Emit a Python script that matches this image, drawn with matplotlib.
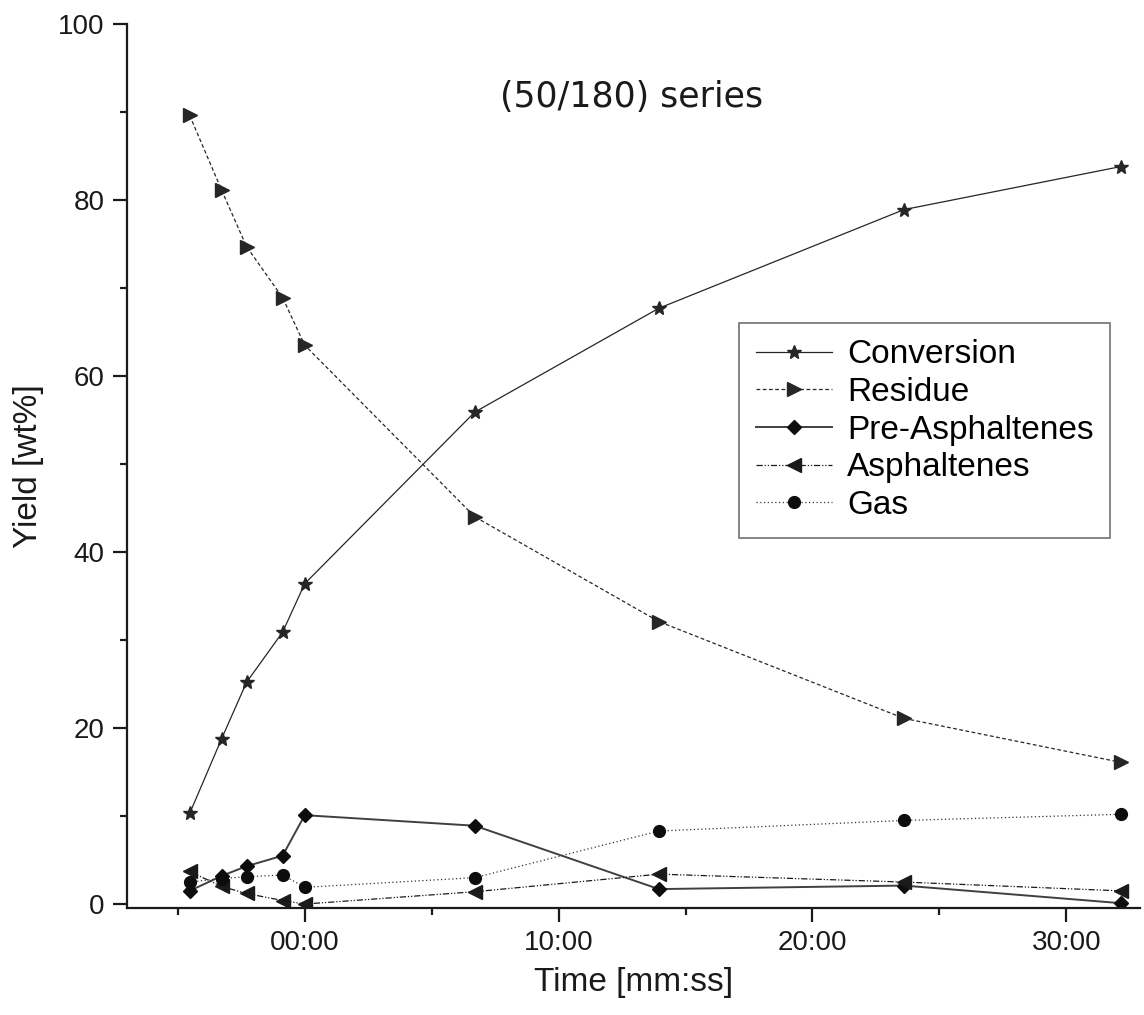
import numpy as np
import matplotlib
matplotlib.use('Agg')
import matplotlib.pyplot as plt
from matplotlib.ticker import FixedLocator, FuncFormatter

plt.rcParams['font.family'] = ['Liberation Sans', 'DejaVu Sans']

#%% data (time in minutes, yields in wt%)

time_min = [-4.53, -3.27, -2.29, -0.87, 0.0, 6.7, 13.95, 23.6, 32.15]

conversion = [10.3, 18.8, 25.2, 30.9, 36.4, 55.9, 67.7, 78.9, 83.8]
residue = [89.6, 81.1, 74.7, 68.9, 63.5, 44.0, 32.1, 21.1, 16.1]
pre_asph = [1.5, 3.2, 4.3, 5.5, 10.1, 8.9, 1.7, 2.1, 0.1]
asph = [3.7, 2.0, 1.2, 0.4, 0.0, 1.4, 3.4, 2.5, 1.5]
gas = [2.5, 2.9, 3.1, 3.3, 1.9, 3.0, 8.3, 9.5, 10.2]

labels = ['Conversion', 'Residue', 'Pre-Asphaltenes', 'Asphaltenes', 'Gas']

#%% figure

fig = plt.figure(figsize=(11.44, 10.15), dpi=100)
ax = fig.add_axes([0.111, 0.1054, 0.8855, 0.871])

ax.plot(time_min, conversion, color='0.15', lw=0.9, ls='-', marker='*', ms=10, label=labels[0])
ax.plot(time_min, residue, color='0.15', lw=0.9, ls=(0, (3, 2)), marker='>', ms=9.5, label=labels[1])
ax.plot(time_min, pre_asph, color='0.25', lw=1.4, ls='-', marker='D', ms=7.5,
        mfc='0.05', mec='0.05', label=labels[2])
ax.plot(time_min, asph, color='0.1', lw=0.9, ls=(0, (5, 1.5, 1, 1.5, 1, 1.5)), marker='<', ms=9.5, label=labels[3])
ax.plot(time_min, gas, color='0.2', lw=0.9, ls=(0, (1, 2)), marker='o', ms=8.5,
        mfc='0.05', mec='0.05', label=labels[4])

ax.set_xlim(-7.0, 32.9)
ax.set_ylim(-0.45, 100)

ax.xaxis.set_major_locator(FixedLocator([0, 10, 20, 30]))
ax.xaxis.set_minor_locator(FixedLocator([-5, 5, 15, 25]))
ax.xaxis.set_major_formatter(FuncFormatter(lambda v, p: '%02d:00' % int(round(v))))
ax.yaxis.set_major_locator(FixedLocator([0, 20, 40, 60, 80, 100]))
ax.yaxis.set_minor_locator(FixedLocator([10, 30, 50, 70, 90]))

for s in ['top', 'right']:
    ax.spines[s].set_visible(False)
for s in ['left', 'bottom']:
    ax.spines[s].set_linewidth(1.6)
    ax.spines[s].set_color('0.1')

ax.tick_params(axis='both', which='major', direction='out', length=10, width=1.6,
               labelsize=20, colors='0.1', pad=6)
ax.tick_params(axis='both', which='minor', direction='out', length=5, width=1.6, colors='0.1')

ax.set_xlabel('Time [mm:ss]', fontsize=24, color='0.1', labelpad=8)
ax.set_ylabel('Yield [wt%]', fontsize=24, color='0.1', labelpad=10)

ax.text(0.4985, 0.917, '(50/180) series', transform=ax.transAxes, ha='center', va='center',
        fontsize=25, family=['DejaVu Sans'], color='0.1')

leg = ax.legend(loc='upper left', bbox_to_anchor=(0.604, 0.662), fontsize=24,
                frameon=True, fancybox=False, handlelength=2.3, labelspacing=0.2,
                borderpad=0.5, handletextpad=0.45, borderaxespad=0)
leg.get_frame().set_edgecolor('0.3')
leg.get_frame().set_linewidth(1.2)

fig.savefig('out.png', dpi=100)
